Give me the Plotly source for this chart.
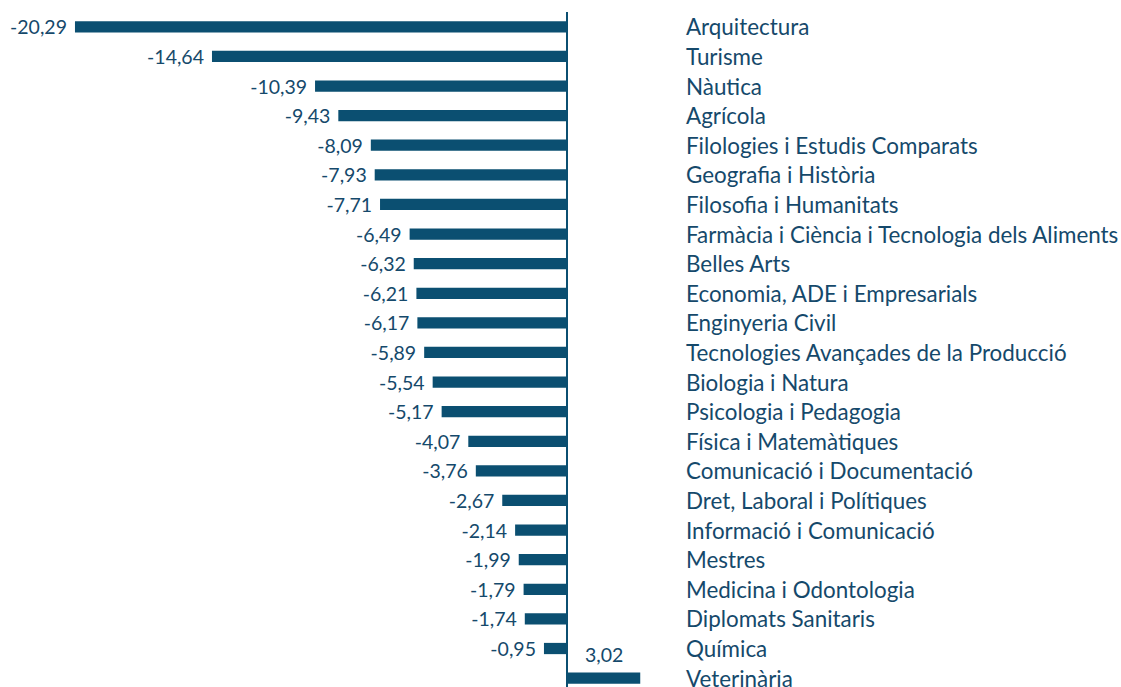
import plotly.graph_objects as go

categories = ["Arquitectura", "Turisme", "Nàutica", "Agrícola",
              "Filologies i Estudis Comparats", "Geografia i Història",
              "Filosofia i Humanitats", "Farmàcia i Ciència i Tecnologia dels Aliments",
              "Belles Arts", "Economia, ADE i Empresarials", "Enginyeria Civil",
              "Tecnologies Avançades de la Producció", "Biologia i Natura",
              "Psicologia i Pedagogia", "Física i Matemàtiques",
              "Comunicació i Documentació", "Dret, Laboral i Polítiques",
              "Informació i Comunicació", "Mestres", "Medicina i Odontologia",
              "Diplomats Sanitaris", "Química", "Veterinària"]
values = [-20.29, -14.64, -10.39, -9.43, -8.09, -7.93, -7.71, -6.49, -6.32, -6.21,
          -6.17, -5.89, -5.54, -5.17, -4.07, -3.76, -2.67, -2.14, -1.99, -1.79,
          -1.74, -0.95, 3.02]

BAR = "#0B4F71"
TXT = "#15496B"
FONT = "Lato"
FS_VAL = 19.5
FS_CAT = 22.4

def fmt(v):
    return f"{v:.2f}".replace(".", ",")

idx = list(range(len(categories)))
texts = [fmt(v) + "\u00a0" if v < 0 else "" for v in values]

fig = go.Figure()
fig.add_trace(go.Bar(
    x=values, y=idx, orientation="h",
    marker=dict(color=BAR, line=dict(width=0)),
    width=0.38,
    text=texts, textposition="outside", cliponaxis=False, constraintext="none",
    textfont=dict(family=FONT, size=FS_VAL, color=TXT),
    hoverinfo="skip",
))

annotations = []
for i, c in enumerate(categories):
    annotations.append(dict(x=4.83, y=i, xref="x", yref="y", text=c, showarrow=False,
                            xanchor="left", yanchor="middle",
                            font=dict(family=FONT, size=FS_CAT, color=TXT)))
for i, v in enumerate(values):
    if v > 0:
        annotations.append(dict(x=v / 2, y=i, xref="x", yref="y", text=fmt(v),
                                showarrow=False, xanchor="center", yanchor="middle",
                                yshift=24, font=dict(family=FONT, size=FS_VAL, color=TXT)))

fig.update_layout(
    width=1121, height=687,
    margin=dict(l=0, r=0, t=12, b=0),
    paper_bgcolor="white", plot_bgcolor="white",
    showlegend=False,
    annotations=annotations,
    xaxis=dict(range=[-567 / 24.25, (1121 - 567) / 24.25], showgrid=False,
               showticklabels=False, zeroline=True, zerolinecolor=BAR,
               zerolinewidth=2, fixedrange=True),
    yaxis=dict(range=[22.3, -0.5], showgrid=False, showticklabels=False,
               zeroline=False, fixedrange=True),
)

fig.write_html("out.html", config={"displayModeBar": False},
               post_script="document.body.style.margin='0';document.body.style.overflow='hidden';")
